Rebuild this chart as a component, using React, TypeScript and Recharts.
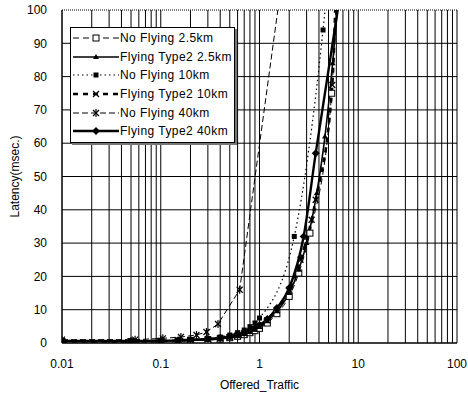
import { LineChart, Line, XAxis, YAxis, CartesianGrid, Legend } from 'recharts'

// x axis: log grid 0.01 .. 100
const xTicks = [
  0.01, 0.02, 0.03, 0.04, 0.05, 0.06, 0.07, 0.08, 0.09,
  0.1, 0.2, 0.3, 0.4, 0.5, 0.6, 0.7, 0.8, 0.9,
  1, 2, 3, 4, 5, 6, 7, 8, 9,
  10, 20, 30, 40, 50, 60, 70, 80, 90, 100,
]
const xLabels = [0.01, 0.1, 1, 10, 100]
const yTicks = [0, 10, 20, 30, 40, 50, 60, 70, 80, 90, 100]

// No Flying 2.5km
const nf25X = [0.01, 0.05, 0.1, 0.15, 0.2, 0.3, 0.4, 0.5, 0.6, 0.7, 0.8, 0.9, 1.0, 1.2, 1.5, 2.0, 2.5, 3.24, 5.38, 6.0]
const nf25Y = [0.4, 0.4, 0.5, 0.6, 0.7, 0.9, 1.2, 1.6, 2.0, 2.5, 3.1, 3.7, 4.4, 6.0, 8.8, 14, 21, 33, 75, 104]
// Flying Type2 2.5km
const ft25X = [0.01, 0.05, 0.1, 0.15, 0.2, 0.3, 0.4, 0.5, 0.6, 0.7, 0.8, 0.9, 1.0, 1.2, 1.5, 2.0, 2.5, 3.0, 3.8, 4.6, 5.5, 6.3]
const ft25Y = [0.5, 0.5, 0.6, 0.7, 0.8, 1.0, 1.3, 1.7, 2.2, 2.7, 3.3, 4.0, 4.8, 6.5, 9.5, 15, 22, 30, 45, 62, 84, 104]
// No Flying 10km
const nf10X = [0.01, 0.05, 0.1, 0.15, 0.2, 0.3, 0.4, 0.5, 0.6, 0.7, 0.8, 0.9, 1.0, 2.25, 4.4, 4.8]
const nf10Y = [0.6, 0.6, 0.7, 0.8, 1.0, 1.3, 1.8, 2.4, 3.1, 3.9, 4.9, 6.0, 7.5, 32, 94, 105]
// Flying Type2 10km
const ft10X = [0.01, 0.05, 0.1, 0.15, 0.2, 0.3, 0.4, 0.5, 0.6, 0.7, 0.8, 0.9, 1.0, 1.2, 1.5, 2.0, 2.6, 3.37, 3.71, 5.46, 5.9]
const ft10Y = [0.5, 0.5, 0.6, 0.7, 0.9, 1.1, 1.4, 1.8, 2.3, 2.9, 3.5, 4.2, 5.0, 6.8, 9.8, 16, 25, 37, 43, 77.5, 104]
// No Flying 40km
const nf40X = [0.01, 0.055, 0.105, 0.16, 0.23, 0.29, 0.38, 0.63, 1.6]
const nf40Y = [1.0, 1.0, 1.4, 1.8, 2.4, 3.3, 5.7, 16, 104]
// Flying Type2 40km
const ft40X = [0.01, 0.05, 0.1, 0.15, 0.2, 0.3, 0.4, 0.5, 0.6, 0.7, 0.8, 0.9, 1.0, 1.2, 1.5, 2.0, 2.8, 3.71, 6.5]
const ft40Y = [0.6, 0.6, 0.7, 0.8, 1.0, 1.2, 1.5, 1.9, 2.4, 3.0, 3.7, 4.5, 5.4, 7.2, 10.5, 16.5, 32, 57, 104]

const pts = (xs: number[], ys: number[]) => xs.map((x, i) => ({ x, y: ys[i] }))

type Kind = 'sqOpen' | 'tri' | 'sqFill' | 'cross' | 'star' | 'diamond'

function Marker({ kind, cx, cy }: { kind: Kind; cx: number; cy: number }) {
  switch (kind) {
    case 'sqOpen':
      return <rect x={cx - 3} y={cy - 3} width={6} height={6} fill="#fff" stroke="#000" strokeWidth={1} />
    case 'tri':
      return <polygon points={`${cx},${cy - 3} ${cx - 3},${cy + 2} ${cx + 3},${cy + 2}`} fill="#000" />
    case 'sqFill':
      return <rect x={cx - 2.5} y={cy - 2.5} width={5} height={5} fill="#000" />
    case 'cross':
      return (
        <g stroke="#000" strokeWidth={1.3}>
          <line x1={cx - 3} y1={cy - 3} x2={cx + 3} y2={cy + 3} />
          <line x1={cx - 3} y1={cy + 3} x2={cx + 3} y2={cy - 3} />
        </g>
      )
    case 'star':
      return (
        <g stroke="#000" strokeWidth={1.2}>
          <line x1={cx - 3} y1={cy - 3} x2={cx + 3} y2={cy + 3} />
          <line x1={cx - 3} y1={cy + 3} x2={cx + 3} y2={cy - 3} />
          <line x1={cx} y1={cy - 4} x2={cx} y2={cy + 4} />
        </g>
      )
    default:
      return <polygon points={`${cx},${cy - 4} ${cx + 4},${cy} ${cx},${cy + 4} ${cx - 4},${cy}`} fill="#000" />
  }
}

const dot = (kind: Kind) => (p: any) => {
  if (p.cx == null || p.cy == null) return <g key={p.index} />
  return (
    <g key={p.index}>
      <Marker kind={kind} cx={p.cx} cy={p.cy} />
    </g>
  )
}

const series = [
  { name: 'No Flying 2.5km', data: pts(nf25X, nf25Y), kind: 'sqOpen' as Kind, width: 1, dash: '6 4', curve: 'monotone' },
  { name: 'Flying Type2 2.5km', data: pts(ft25X, ft25Y), kind: 'tri' as Kind, width: 1.6, dash: undefined, curve: 'monotone' },
  { name: 'No Flying 10km', data: pts(nf10X, nf10Y), kind: 'sqFill' as Kind, width: 1.2, dash: '1.5 3', curve: 'monotone' },
  { name: 'Flying Type2 10km', data: pts(ft10X, ft10Y), kind: 'cross' as Kind, width: 2.6, dash: '5 5', curve: 'monotone' },
  { name: 'No Flying 40km', data: pts(nf40X, nf40Y), kind: 'star' as Kind, width: 1, dash: '6 3', curve: 'linear' },
  { name: 'Flying Type2 40km', data: pts(ft40X, ft40Y), kind: 'diamond' as Kind, width: 2.4, dash: undefined, curve: 'monotone' },
]

function LegendBox() {
  return (
    <div
      style={{
        background: '#fff',
        border: '1px solid #000',
        boxShadow: '2px 2px 0 #777',
        padding: '1px 0 1px 2px',
        fontFamily: '"Liberation Sans", Arial, sans-serif',
        fontSize: 12,
        color: '#000',
        width: 165,
        boxSizing: 'border-box',
      }}
    >
      {series.map((s) => (
        <div key={s.name} style={{ display: 'flex', alignItems: 'center', height: 18.6 }}>
          <svg width={46} height={12} style={{ flex: 'none' }}>
            <line x1={0} y1={6} x2={46} y2={6} stroke="#000" strokeWidth={s.width} strokeDasharray={s.dash} />
            <Marker kind={s.kind} cx={23} cy={6} />
          </svg>
          <span style={{ marginLeft: 1, whiteSpace: 'nowrap', letterSpacing: 0.45 }}>{s.name}</span>
        </div>
      ))}
    </div>
  )
}

const tickStyle = { fill: '#000', fontSize: 12, fontFamily: '"Liberation Sans", Arial, sans-serif' }

export default function App() {
  return (
    <div style={{ position: 'absolute', left: 0, top: 0, background: '#fff' }}>
      <LineChart width={468} height={393} margin={{ top: 10, right: 11, bottom: 0, left: 0 }}>
        <CartesianGrid
          stroke="#000"
          horizontal={(p: any) => (
            <line
              key={`h-${p.y1}`}
              x1={p.x1}
              y1={p.y1}
              x2={p.x2}
              y2={p.y2}
              stroke="#000"
              strokeWidth={1}
              strokeDasharray={p.y1 < 12 ? '1 1' : undefined}
            />
          )}
          vertical={(p: any) => (
            <line key={`v-${p.x1}`} x1={p.x1} y1={p.y1} x2={p.x2} y2={p.y2} stroke="#000" strokeWidth={1} />
          )}
        />
        <XAxis
          dataKey="x"
          type="number"
          scale="log"
          domain={[0.01, 100]}
          allowDataOverflow
          ticks={xTicks}
          interval={0}
          tickFormatter={(v: number) => (xLabels.some((d) => Math.abs(d - v) < 1e-9) ? String(v) : '')}
          tick={tickStyle}
          tickLine={false}
          tickMargin={10}
          axisLine={{ stroke: '#000' }}
          height={50}
          label={{ value: 'Offered_Traffic', position: 'insideBottom', offset: 4, style: tickStyle }}
        />
        <YAxis
          type="number"
          domain={[0, 100]}
          allowDataOverflow
          ticks={yTicks}
          interval={0}
          tick={tickStyle}
          tickLine={false}
          tickMargin={9}
          width={62}
          axisLine={{ stroke: '#000' }}
          label={{ value: 'Latency(msec.)', angle: -90, position: 'insideLeft', offset: 15, style: { ...tickStyle, textAnchor: 'middle' } }}
        />
        <Legend
          content={() => <LegendBox />}
          wrapperStyle={{ left: 70, top: 27, width: 'auto' }}
          layout="vertical"
          verticalAlign="middle"
          align="center"
        />
        {series.map((s) => (
          <Line
            key={s.name}
            name={s.name}
            data={s.data}
            dataKey="y"
            type={s.curve as any}
            stroke="#000"
            strokeWidth={s.width}
            strokeDasharray={s.dash}
            dot={dot(s.kind)}
            activeDot={false}
            isAnimationActive={false}
          />
        ))}
      </LineChart>
    </div>
  )
}
